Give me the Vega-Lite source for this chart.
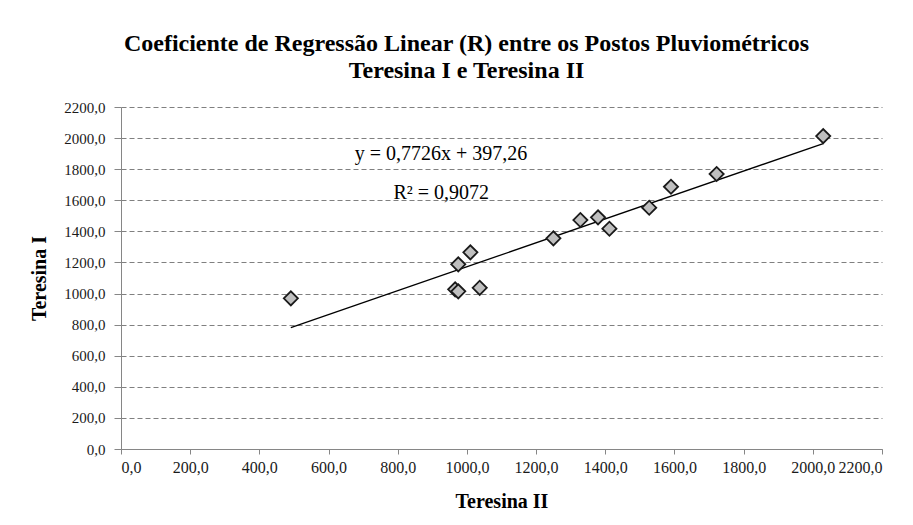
{
  "$schema": "https://vega.github.io/schema/vega-lite/v6.json",
  "width": 761,
  "height": 342,
  "autosize": {"type": "none"},
  "padding": {"left": 121, "top": 107, "right": 31, "bottom": 76},
  "background": "white",
  "config": {
    "font": "Liberation Serif",
    "view": {"stroke": null}
  },
  "title": {
    "text": ["Coeficiente  de Regressão Linear (R) entre os Postos Pluviométricos", "Teresina I e Teresina II"],
    "font": "Liberation Serif",
    "fontSize": 24,
    "fontWeight": "bold",
    "color": "#000000",
    "anchor": "middle",
    "dx": -35,
    "offset": 17,
    "lineHeight": 27
  },
  "data": {
    "values": [
      {"t2": 491, "t1": 969},
      {"t2": 966, "t1": 1027},
      {"t2": 975, "t1": 1014},
      {"t2": 975, "t1": 1188},
      {"t2": 1010, "t1": 1265},
      {"t2": 1037, "t1": 1037},
      {"t2": 1250, "t1": 1355},
      {"t2": 1328, "t1": 1473},
      {"t2": 1379, "t1": 1490},
      {"t2": 1412, "t1": 1417},
      {"t2": 1527, "t1": 1552},
      {"t2": 1590, "t1": 1687},
      {"t2": 1722, "t1": 1769},
      {"t2": 2030, "t1": 2013}
    ]
  },
  "encoding": {
    "x": {
      "field": "t2", "type": "quantitative",
      "scale": {"domain": [0, 2200], "nice": false, "zero": true},
      "axis": {
        "title": "Teresina II",
        "values": [0, 200, 400, 600, 800, 1000, 1200, 1400, 1600, 1800, 2000, 2200],
        "labelExpr": "replace(format(datum.value, '.1f'), '.', ',')",
        "grid": false,
        "labelFont": "Liberation Serif",
        "labelFontSize": 16,
        "labelColor": "#1a1a1a",
        "labelOverlap": false,
        "labelPadding": 5,
        "titleFont": "Liberation Serif",
        "titleFontSize": 20,
        "titleFontWeight": "bold",
        "titleColor": "#000000",
        "titlePadding": 16,
        "domainColor": "#868686",
        "tickColor": "#868686",
        "tickSize": 5
      }
    },
    "y": {
      "field": "t1", "type": "quantitative",
      "scale": {"domain": [0, 2200], "nice": false, "zero": true},
      "axis": {
        "title": "Teresina I",
        "values": [0, 200, 400, 600, 800, 1000, 1200, 1400, 1600, 1800, 2000, 2200],
        "labelExpr": "replace(format(datum.value, '.1f'), '.', ',')",
        "grid": true,
        "gridDash": [5, 3],
        "gridWidth": 1.2,
        "gridColor": "#808080",
        "labelFont": "Liberation Serif",
        "labelFontSize": 15,
        "labelColor": "#1a1a1a",
        "labelOverlap": false,
        "labelPadding": 9,
        "titleFont": "Liberation Serif",
        "titleFontSize": 20,
        "titleFontWeight": "bold",
        "titleColor": "#000000",
        "titlePadding": 14,
        "domainColor": "#868686",
        "tickColor": "#868686",
        "tickSize": 7
      }
    }
  },
  "layer": [
    {
      "transform": [{"regression": "t1", "on": "t2"}],
      "mark": {"type": "line", "color": "#000000", "strokeWidth": 1.3}
    },
    {
      "mark": {"type": "point", "shape": "diamond", "filled": true, "size": 200, "fill": "#bfbfbf", "stroke": "#1a1a1a", "strokeWidth": 1.8, "opacity": 1}
    },
    {
      "data": {"values": [
        {"t2": 925, "t1": 1898, "label": "y = 0,7726x + 397,26"},
        {"t2": 926, "t1": 1645, "label": "R² = 0,9072"}
      ]},
      "mark": {"type": "text", "font": "Liberation Serif", "fontSize": 20, "color": "#000000", "align": "center", "baseline": "middle"},
      "encoding": {
        "text": {"field": "label"}
      }
    }
  ]
}
